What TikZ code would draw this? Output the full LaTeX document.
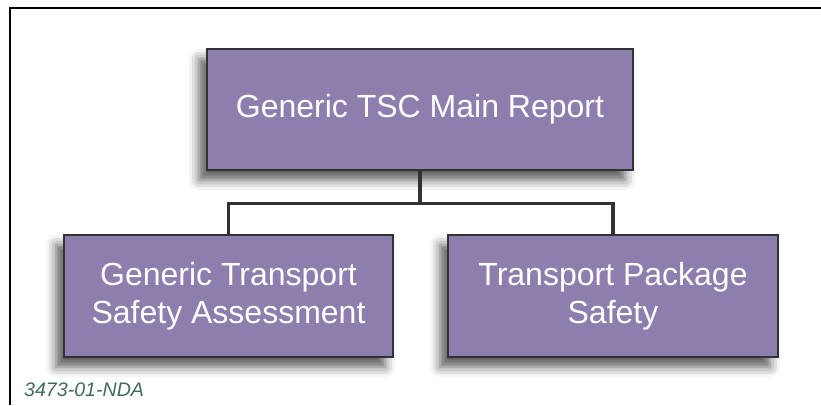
\documentclass[tikz,border=0pt]{standalone}
\usepackage{fontspec}
\setmainfont{Liberation Sans}
\usepackage{tikz}
\usetikzlibrary{positioning,shadows.blur}
\definecolor{boxpurple}{RGB}{142,126,174}
\definecolor{boxline}{RGB}{50,50,50}
\definecolor{tagteal}{RGB}{61,107,94}

\begin{document}
\begin{tikzpicture}[x=1pt, y=1pt, line join=miter]
   \useasboundingbox (0,0) rectangle (821,405);
   % frame
   \draw[line width=2pt] (10,0) -- (10,397) -- (821,397);
   \begin{scope}[every node/.style={rectangle, draw=boxline, line width=1.3pt, fill=boxpurple,
       text=white, align=center, inner sep=0pt, font=\fontsize{32}{38}\selectfont,
       blur shadow={shadow xshift=-8pt, shadow yshift=-10pt, shadow blur radius=10pt, shadow opacity=65}}]
    \node[minimum width=426pt, minimum height=121pt] (b1) at (420,295.5) {Generic TSC Main Report};
    \node[minimum width=329pt, minimum height=122pt] (b2) at (228.5,109) {Generic Transport\\Safety Assessment};
    \node[minimum width=330pt, minimum height=122pt] (b3) at (613,109) {Transport Package\\Safety};
   \end{scope}
   \begin{scope}[line width=3.3pt, draw=boxline]
    \draw (b1.south) -- ++(0,-33) -| (b2.north);
    \draw (b1.south) -- ++(0,-33) -| (b3.north);
   \end{scope}
   \node[anchor=base west, inner sep=0pt, text=tagteal, font=\fontsize{19.6}{22}\selectfont\itshape] (tag) at (24,9) {3473-01-NDA};
\end{tikzpicture}
\end{document}
